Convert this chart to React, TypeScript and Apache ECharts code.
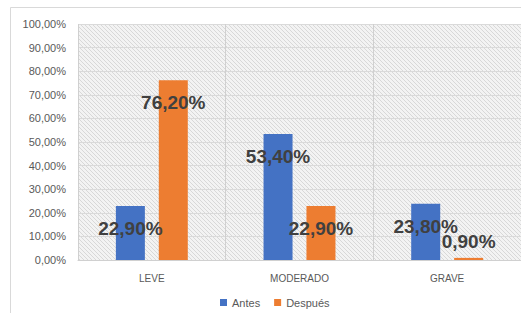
import React, { useEffect, useRef } from "react";
import * as echarts from "echarts";

const categories = ["LEVE", "MODERADO", "GRAVE"];
const antes = [22.9, 53.4, 23.8];
const despues = [76.2, 22.9, 0.9];
const seriesNames = ["Antes", "Después"];

const fmt = (v: number) => v.toFixed(2).replace(".", ",") + "%";

function makePattern() {
  const c = document.createElement("canvas");
  c.width = 4;
  c.height = 4;
  const ctx = c.getContext("2d")!;
  ctx.fillStyle = "#f3f3f3";
  ctx.fillRect(0, 0, 4, 4);
  ctx.fillStyle = "#d8d8d8";
  for (let i = 0; i < 4; i++) ctx.fillRect(i, i, 1, 1);
  return c;
}

export default function App() {
  const ref = useRef<HTMLDivElement>(null);
  useEffect(() => {
    const chart = echarts.init(ref.current!, undefined, { renderer: "svg" });
    const labelBase = {
      show: true,
      position: "insideTop" as const,
      distance: 13,
      formatter: (p: any) => fmt(p.value),
      fontSize: 19,
      fontWeight: "bold" as const,
      color: "#404040",
      fontFamily: "Liberation Sans, Arial, sans-serif",
    };
    let bg: any = "#ececec";
    try {
      bg = { image: makePattern(), repeat: "repeat" };
    } catch (e) {}
    chart.setOption({
      animation: false,
      backgroundColor: "#ffffff",
      textStyle: { fontFamily: "Liberation Sans, Arial, sans-serif" },
      graphic: [
        {
          type: "rect",
          shape: { x: 10.5, y: 7.5, width: 530, height: 330 },
          style: { fill: "none", stroke: "#d9d9d9", lineWidth: 1 },
          silent: true,
        },
      ],
      grid: {
        left: 78,
        right: -3,
        top: 24,
        bottom: 53,
        show: true,
        backgroundColor: bg,
        borderWidth: 0,
      },
      legend: {
        data: seriesNames,
        top: 297,
        left: 220,
        icon: "rect",
        itemWidth: 7,
        itemHeight: 7,
        itemGap: 14,
        padding: 0,
        textStyle: { fontSize: 11, color: "#595959" },
      },
      xAxis: {
        type: "category",
        data: categories,
        axisLine: { show: true, lineStyle: { color: "#d0d0d0" } },
        axisTick: { show: false },
        axisLabel: { fontSize: 10, color: "#595959", margin: 13 },
        splitLine: { show: true, lineStyle: { color: "#d0d0d0" } },
      },
      yAxis: {
        type: "value",
        min: 0,
        max: 100,
        interval: 10,
        axisLine: { show: false },
        axisTick: { show: false },
        axisLabel: {
          fontSize: 11,
          color: "#595959",
          margin: 12,
          formatter: (v: number) => fmt(v),
        },
        splitLine: { show: true, lineStyle: { color: "#dadada" } },
      },
      series: [
        {
          name: seriesNames[0],
          type: "bar",
          data: antes,
          barWidth: 29,
          barGap: "48%",
          itemStyle: { color: "#4472C4" },
          label: labelBase,
        },
        {
          name: seriesNames[1],
          type: "bar",
          data: despues.map((v) =>
            v < 5 ? { value: v, label: { position: "top", distance: 7 } } : v
          ),
          barWidth: 29,
          itemStyle: { color: "#ED7D31" },
          label: labelBase,
        },
      ],
    });
    return () => chart.dispose();
  }, []);
  return (
    <div
      ref={ref}
      style={{ position: "fixed", left: 0, top: 0, width: 521, height: 313 }}
    />
  );
}
